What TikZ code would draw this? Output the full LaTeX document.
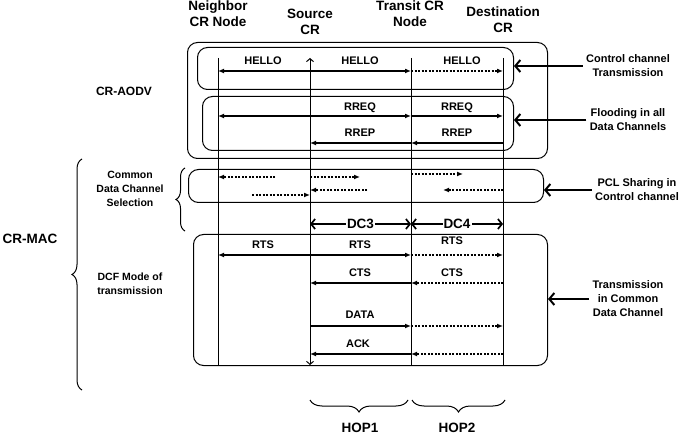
\documentclass[tikz,border=0pt]{standalone}
\usepackage{fontspec}
\setmainfont{Liberation Sans}
\usetikzlibrary{arrows.meta,decorations.pathreplacing}
\tikzset{
  box/.style={draw, line width=1pt, rounded corners=10pt, anchor=north west, inner sep=0pt},
  life/.style={line width=1pt},
  msg/.style={line width=1.2pt, ->},
  dmsg/.style={msg, dash pattern=on 2pt off 1.5pt},
  lbl/.style={font=\bfseries\fontsize{11}{13}\selectfont},
  hdr/.style={align=center, font=\bfseries\fontsize{13.5}{16}\selectfont},
  side/.style={align=center, font=\bfseries\fontsize{10.5}{14}\selectfont},
  rside/.style={align=center, font=\bfseries\fontsize{11}{14}\selectfont},
  pointer/.style={line width=2pt, -{Straight Barb[length=5pt,width=12pt]}},
  dcline/.style={line width=1.7pt, {Straight Barb[length=4pt,width=10pt]}-{Straight Barb[length=4pt,width=10pt]}},
  brc/.style={decorate, decoration={brace, amplitude=#1}, line width=1pt},
}
\begin{document}
\begin{tikzpicture}[x=1pt, y=-1pt, >={Latex[length=6pt,width=5pt]}]
\useasboundingbox (0,0) rectangle (685,435);
% lifelines
\coordinate (nb) at (218,58);
\coordinate (src) at (310,58);
\coordinate (tr) at (411,58);
\coordinate (dst) at (503,58);
\node[hdr] (nbh) at (218,14) {Neighbor\\CR Node};
\node[hdr] (srch) at (310,22) {Source\\CR};
\node[hdr] (trh) at (410,14) {Transit CR\\Node};
\node[hdr] (dsth) at (503,20) {Destination\\CR};
% boxes
\node[box, minimum width=360, minimum height=116] (aodv) at (187,42) {};
\node[box, minimum width=316, minimum height=42] (hello) at (197,47) {};
\node[box, minimum width=311, minimum height=54] (flood) at (202,96) {};
\node[box, minimum width=355, minimum height=33] (pcl) at (188,169) {};
\node[box, minimum width=354, minimum height=131] (dcf) at (193,234) {};
\draw[life] (nb) -- (nb |- 0,365);
\draw[life, {Straight Barb[length=3pt,width=7pt]}-{Straight Barb[length=3pt,width=7pt]}] (src |- 0,365) -- (src);
\draw[life] (tr) -- (tr |- 0,365);
\draw[life] (dst) -- (dst |- 0,365);
% CR-AODV
\draw[msg,<->] (nb |- 0,71) -- (tr |- 0,71);
\draw[dmsg] (tr |- 0,71) -- (dst |- 0,71);
\node[lbl] (h1) at (263,61) {HELLO};
\node[lbl] (h2) at (360,61) {HELLO};
\node[lbl] (h3) at (462,61) {HELLO};
\draw[msg,<->] (nb |- 0,116) -- (tr |- 0,116);
\draw[msg] (tr |- 0,116) -- (dst |- 0,116);
\node[lbl] (q1) at (360,108) {RREQ};
\node[lbl] (q2) at (457,108) {RREQ};
\draw[msg] (dst |- 0,143) -- (tr |- 0,143);
\draw[msg] (tr |- 0,143) -- (src |- 0,143);
\node[lbl] (r1) at (360,133) {RREP};
\node[lbl] (r2) at (457,133) {RREP};
% PCL sharing
\coordinate (p1) at (275,177);
\coordinate (p2) at (360,177);
\coordinate (p3) at (463,174);
\coordinate (p4) at (252,195);
\coordinate (p5) at (367,190);
\coordinate (p6) at (443,190);
\draw[dmsg] (p1) -- (nb |- p1);
\draw[dmsg] (src |- p2) -- (p2);
\draw[dmsg] (tr |- p3) -- (p3);
\draw[dmsg] (p4) -- (src |- p4);
\draw[dmsg] (p5) -- (src |- p5);
\draw[dmsg] (dst |- p6) -- (p6);
\draw[dcline] (src |- 0,224) -- node[fill=white, inner sep=1pt, font=\bfseries\fontsize{13.5}{15}\selectfont] (dc3) {DC3} (tr |- 0,224);
\draw[dcline] (tr |- 0,224) -- node[fill=white, inner sep=1pt, font=\bfseries\fontsize{13.5}{15}\selectfont] (dc4) {DC4} (dst |- 0,224);
% DCF
\draw[msg,<->] (nb |- 0,255) -- (tr |- 0,255);
\draw[dmsg] (tr |- 0,255) -- (dst |- 0,255);
\node[lbl] (t1) at (263,245) {RTS};
\node[lbl] (t2) at (360,245) {RTS};
\node[lbl] (t3) at (452,241) {RTS};
\draw[dmsg] (dst |- 0,283) -- (tr |- 0,283);
\draw[msg] (tr |- 0,283) -- (src |- 0,283);
\node[lbl] (c1) at (360,273) {CTS};
\node[lbl] (c2) at (452,273) {CTS};
\draw[msg] (src |- 0,326) -- (tr |- 0,326);
\draw[dmsg] (tr |- 0,326) -- (dst |- 0,326);
\node[lbl] (d1) at (360,315) {DATA};
\draw[dmsg] (dst |- 0,354) -- (tr |- 0,354);
\draw[msg] (tr |- 0,354) -- (src |- 0,354);
\node[lbl] (a1) at (358,344) {ACK};
% hops
\draw[brc=12pt] (408,400) -- (310,400);
\draw[brc=12pt] (505,400) -- (412,400);
\node[hdr] (hop1) at (360,428) {HOP1};
\node[hdr] (hop2) at (457,428) {HOP2};
% left side
\node[font=\bfseries\fontsize{12}{14}\selectfont] (aodvl) at (124,91) {CR-AODV};
\node[font=\bfseries\fontsize{13.5}{16}\selectfont] (macl) at (30,239) {CR-MAC};
\draw[brc=10pt] (82,390) -- (82,159);
\node[side] (cdcs) at (130,189) {Common\\Data Channel\\Selection};
\draw[brc=9pt] (185,231) -- (185,168);
\node[side] (dcfl) at (130,284) {DCF Mode of\\transmission};
% right side
\node[rside] (ctrl) at (628,66) {Control channel\\Transmission};
\node[rside] (fldl) at (628,120) {Flooding in all\\Data Channels};
\node[rside] (pcll) at (637,190) {PCL Sharing in\\Control channel};
\node[rside] (txl) at (628,299) {Transmission\\in Common\\Data Channel};
\draw[pointer] (ctrl.west) -- (ctrl.west -| hello.east);
\draw[pointer] (fldl.west) -- (fldl.west -| flood.east);
\draw[pointer] (pcll.west) -- (pcll.west -| pcl.east);
\draw[pointer] (txl.west) -- (txl.west -| dcf.east);
\end{tikzpicture}
\end{document}
